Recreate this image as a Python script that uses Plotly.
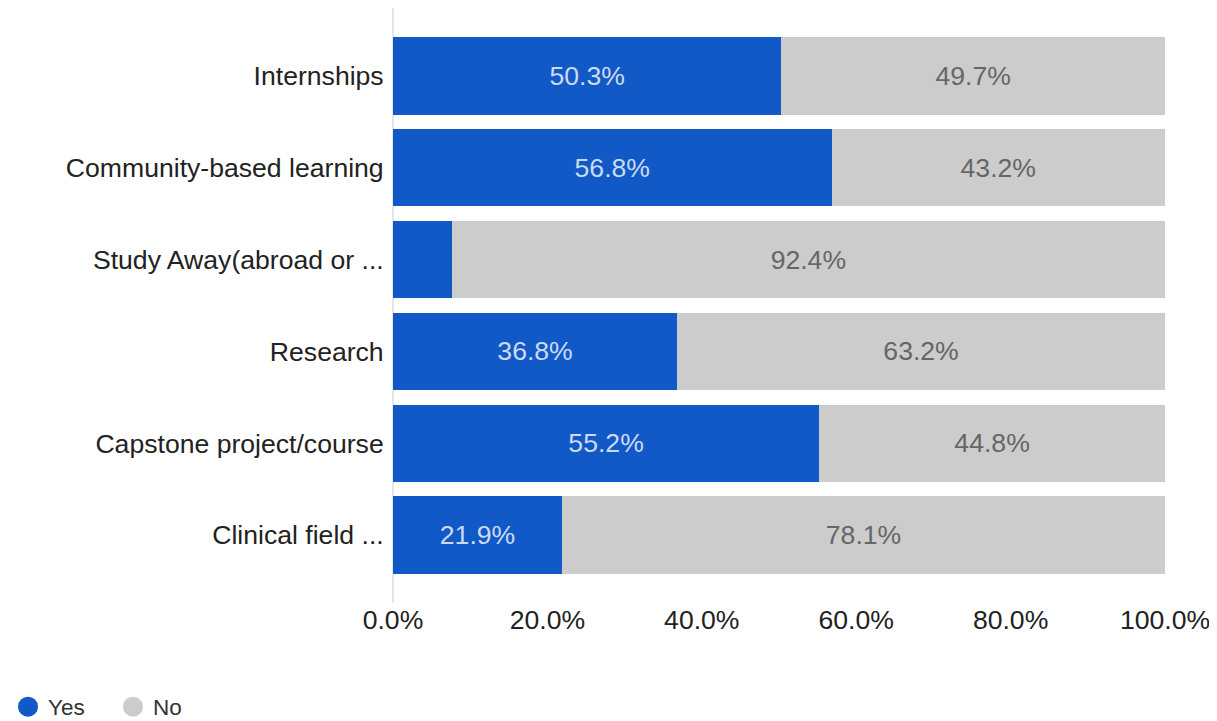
import plotly.graph_objects as go

categories = ["Internships", "Community-based learning", "Study Away(abroad or ...",
              "Research", "Capstone project/course", "Clinical field ..."]
yes_vals = [50.3, 56.8, 7.6, 36.8, 55.2, 21.9]
no_vals = [49.7, 43.2, 92.4, 63.2, 44.8, 78.1]
x_ticks = [0, 20, 40, 60, 80, 100]
x_tick_labels = ["0.0%", "20.0%", "40.0%", "60.0%", "80.0%", "100.0%"]

YES_COLOR = "#1159C7"
NO_COLOR = "#CCCCCC"
FONT = "Liberation Sans"
FS = 26.6

def labels(vals):
    return [f"{v:.1f}%" if v >= 10 else "" for v in vals]

fig = go.Figure()
fig.add_trace(go.Bar(
    y=categories, x=yes_vals, orientation="h", name="Yes",
    marker=dict(color=YES_COLOR, line=dict(width=0)),
    text=labels(yes_vals), textposition="inside", insidetextanchor="middle",
    textfont=dict(family=FONT, size=FS, color="#CCDAF2"),
    showlegend=False, hoverinfo="x+y",
))
fig.add_trace(go.Bar(
    y=categories, x=no_vals, orientation="h", name="No",
    marker=dict(color=NO_COLOR, line=dict(width=0)),
    text=labels(no_vals), textposition="inside", insidetextanchor="middle",
    textfont=dict(family=FONT, size=FS, color="#666666"),
    showlegend=False, hoverinfo="x+y",
))
# legend entries as circles
fig.add_trace(go.Scatter(x=[None], y=[None], mode="markers", name="Yes",
                         marker=dict(color=YES_COLOR, size=16, symbol="circle",
                                     line=dict(color=YES_COLOR, width=4))))
fig.add_trace(go.Scatter(x=[None], y=[None], mode="markers", name="No",
                         marker=dict(color=NO_COLOR, size=16, symbol="circle",
                                     line=dict(color=NO_COLOR, width=4))))

W, H = 1209, 713
PLOT_H = 588
fig.update_layout(
    barmode="stack",
    bargap=0.16,
    width=W, height=H,
    margin=dict(l=385, r=52, t=0, b=H - PLOT_H, autoexpand=False),
    paper_bgcolor="white", plot_bgcolor="white",
    font=dict(family=FONT, size=FS, color="#333333"),
    uniformtext=dict(mode="show", minsize=10),
    xaxis=dict(range=[0, 100], tickvals=x_ticks, ticktext=x_tick_labels,
               showgrid=False, zeroline=False, showline=False, automargin=False,
               ticks="outside", ticklen=0, tickcolor="rgba(0,0,0,0)",
               tickfont=dict(family=FONT, size=FS, color="#222222")),
    yaxis=dict(type="category", categoryorder="array", categoryarray=categories,
               range=[5.664, -0.741], showgrid=False, zeroline=False,
               showline=False, automargin=False,
               ticks="outside", ticklen=3, tickcolor="rgba(0,0,0,0)",
               tickfont=dict(family=FONT, size=FS, color="#222222")),
    shapes=[dict(type="line", xref="paper", yref="paper", x0=0, x1=0,
                 y0=-7 / PLOT_H, y1=1, line=dict(color="#E6E6E6", width=2),
                 layer="below")],
    legend=dict(orientation="h", x=0, xref="container",
                y=(H - 699) / H, yref="container",
                xanchor="left", yanchor="middle", traceorder="normal",
                font=dict(family=FONT, size=22.5, color="#333333"),
                itemwidth=30, entrywidth=60, tracegroupgap=0),
)

fig.write_html("out.html")
